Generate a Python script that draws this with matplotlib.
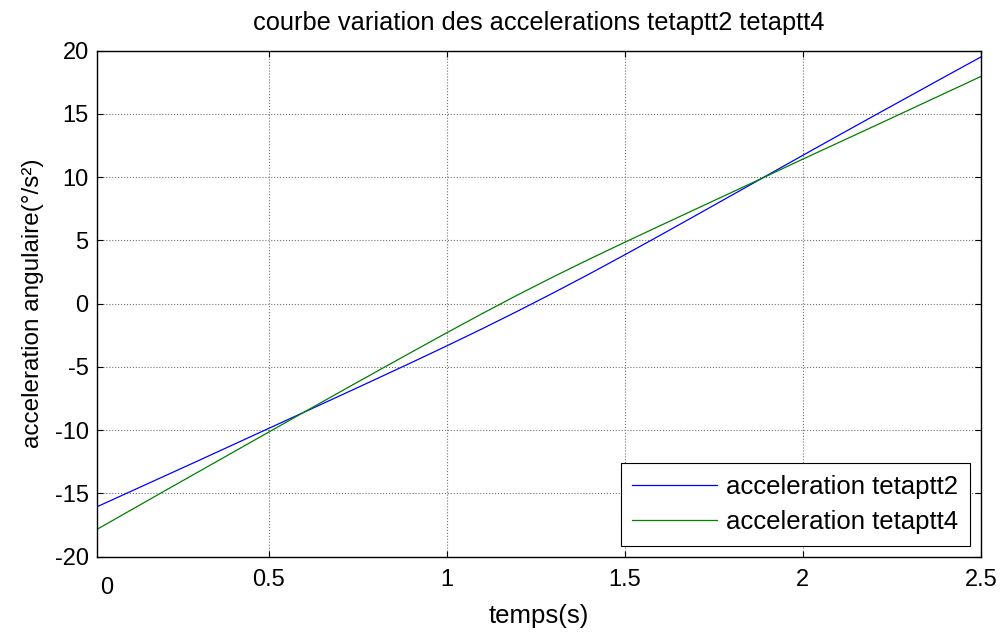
import numpy as np
import matplotlib.pyplot as plt

plt.rcParams['font.family'] = ['Liberation Sans', 'DejaVu Sans']
plt.rcParams['axes.unicode_minus'] = False

# values (every 0.1 s)
temps = [0.0, 0.1, 0.2, 0.3, 0.4, 0.5, 0.6, 0.7, 0.8, 0.9, 1.0, 1.1, 1.2,
         1.3, 1.4, 1.5, 1.6, 1.7, 1.8, 1.9, 2.0, 2.1, 2.2, 2.3, 2.4, 2.5]
tetaptt2 = [-16.27, -14.99, -13.71, -12.43, -11.14, -9.85, -8.56, -7.27,
            -5.97, -4.66, -3.33, -1.97, -0.57, 0.87, 2.35, 3.87, 5.42, 6.99,
            8.57, 10.15, 11.73, 13.30, 14.86, 16.41, 17.96, 19.50]
tetaptt4 = [-18.11, -16.51, -14.91, -13.32, -11.73, -10.14, -8.55, -6.97,
            -5.40, -3.84, -2.29, -0.77, 0.71, 2.14, 3.52, 4.86, 6.18, 7.49,
            8.80, 10.11, 11.43, 12.73, 14.03, 15.34, 16.65, 17.96]

xticks = [0.5, 1, 1.5, 2, 2.5]
xticklabels = ['0.5', '1', '1.5', '2', '2.5']
yticks = [-20, -15, -10, -5, 0, 5, 10, 15, 20]

fig = plt.figure(figsize=(10.03, 6.33), dpi=100)
ax = fig.add_axes([0.0967, 0.1205, 0.8813, 0.7995])

ax.plot(temps, tetaptt2, color=(0, 0, 1), lw=0.9, label='acceleration tetaptt2')
ax.plot(temps, tetaptt4, color=(0, 0.5, 0), lw=0.9, label='acceleration tetaptt4')

ax.set_xlim(0.017, 2.5)
ax.set_ylim(-20, 20)
ax.set_xticks(xticks)
ax.set_xticklabels(xticklabels)
ax.set_yticks(yticks)
ax.tick_params(direction='in', length=4, top=True, right=True, labelsize=17)
ax.tick_params(axis='x', pad=9)
ax.tick_params(axis='y', pad=6)
# MATLAB puts the "0" label just inside the left edge
ax.text(0.0113, -0.061, '0', transform=ax.transAxes, ha='center',
        va='center', fontsize=17)
ax.grid(True, color='0.45', linestyle=':', linewidth=0.8)
for s in ax.spines.values():
    s.set_linewidth(1.0)

ax.set_title('courbe variation des accelerations tetaptt2 tetaptt4',
             fontsize=18.3, pad=15)
ax.set_xlabel('temps(s)', fontsize=18.5, labelpad=9)
ax.set_ylabel('acceleration angulaire(°/s²)', fontsize=17.5, labelpad=8)

leg = ax.legend(loc='lower right', fontsize=18.5, fancybox=False,
                framealpha=1, edgecolor='black', handlelength=3.3,
                borderaxespad=0.43, borderpad=0.45, handletextpad=0.35,
                labelspacing=0.45)
leg.get_frame().set_linewidth(0.8)

fig.savefig('out.png', dpi=100)
